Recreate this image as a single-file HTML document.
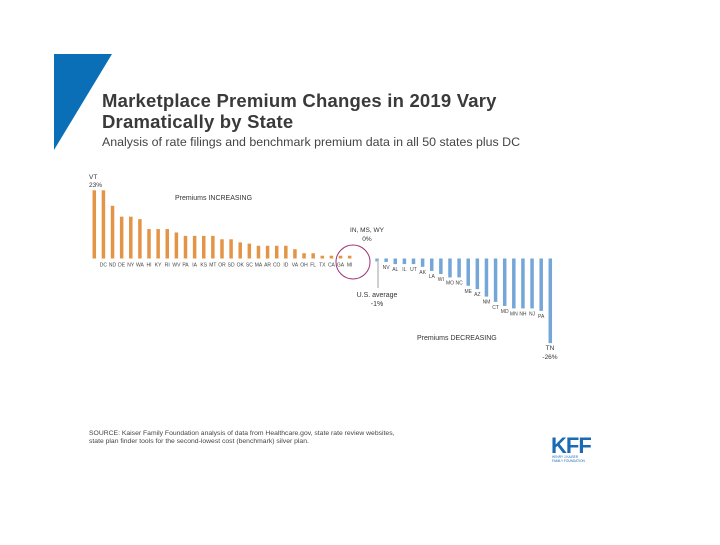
<!DOCTYPE html>
<html><head><meta charset="utf-8"><style>
body{margin:0;background:#fff;}
svg text{font-family:"Liberation Sans",sans-serif;}
</style></head><body>
<svg width="720" height="540" viewBox="0 0 720 540">
<polygon points="54,54 112,54 54,150" fill="#0a6fb7"/>
<text x="102" y="107" font-size="18.5" font-weight="bold" fill="#3a3a3a" letter-spacing="0.2">Marketplace Premium Changes in 2019 Vary</text>
<text x="102" y="128" font-size="18.5" font-weight="bold" fill="#3a3a3a" letter-spacing="0.2">Dramatically by State</text>
<text x="102" y="146" font-size="12.4" fill="#444">Analysis of rate filings and benchmark premium data in all 50 states plus DC</text>
<g id="chart"></g>
<text x="89" y="179" font-size="6.5" fill="#333">VT</text>
<text x="89" y="187" font-size="6.5" fill="#333">23%</text>
<text x="175" y="200" font-size="7" fill="#333">Premiums INCREASING</text>
<text x="367" y="232" font-size="6.5" fill="#333" text-anchor="middle">IN, MS, WY</text>
<text x="367" y="241" font-size="6.5" fill="#333" text-anchor="middle">0%</text>
<circle cx="353" cy="262" r="17" fill="none" stroke="#a0307a" stroke-width="1"/>
<line x1="378" y1="262" x2="378" y2="288" stroke="#888" stroke-width="0.8"/>
<text x="377" y="297" font-size="7" fill="#333" text-anchor="middle">U.S. average</text>
<text x="377" y="306" font-size="7" fill="#333" text-anchor="middle">-1%</text>
<text x="417" y="340" font-size="7" fill="#333">Premiums DECREASING</text>
<text x="550" y="350" font-size="6.5" fill="#333" text-anchor="middle">TN</text>
<text x="550" y="359" font-size="6.5" fill="#333" text-anchor="middle">-26%</text>
<text x="89" y="435" font-size="6.8" fill="#444">SOURCE: Kaiser Family Foundation analysis of data from Healthcare.gov, state rate review websites,</text>
<text x="89" y="443" font-size="6.8" fill="#444">state plan finder tools for the second-lowest cost (benchmark) silver plan.</text>
<g>
<text x="551" y="453" font-size="22" font-weight="bold" fill="#1a6bb4" letter-spacing="-1">KFF</text>
<text x="552" y="458" font-size="3.2" fill="#1a6bb4">HENRY J KAISER</text>
<text x="552" y="462" font-size="3.2" fill="#1a6bb4">FAMILY FOUNDATION</text>
</g>
</svg>
<script>
const posStates=["VT","DC","ND","DE","NY","WA","HI","KY","RI","WV","PA","IA","KS","MT","OR","SD","OK","SC","MA","AR","CO","ID","VA","OH","FL","TX","CA","GA","MI"];
const posValues=[22,22,17,13.5,13.5,12.7,9.5,9.5,9.5,8.4,7.3,7.3,7.3,7.3,6.2,6.2,5.2,4.8,4.1,4.1,4.1,4.1,3,1.7,1.7,0.9,0.9,0.9,0.9];
const usAverage=-1;
const negStates=["NV","AL","IL","UT","AK","LA","WI","MO","NC","ME","AZ","NM","CT","MD","MN","NH","NJ","PA2","TN"];
const negValues=[-1.1,-1.8,-1.8,-1.8,-2.7,-4,-5,-6.1,-6.1,-8.8,-9.9,-12.3,-14,-15.3,-16.1,-16.1,-16.1,-16.9,-27.3];
const baseY=258.5, pxPer=3.1, x0=94.3, step=9.12, bw=3.5;
const ns="http://www.w3.org/2000/svg";
const g=document.getElementById('chart');
function xs(i){return x0+i*step;}
function ys(v){return baseY-v*pxPer;}
function bar(i,v,color,name){
  const r=document.createElementNS(ns,'rect');
  const y=Math.min(ys(v),baseY), h=Math.abs(ys(v)-baseY);
  r.setAttribute('x',xs(i)-bw/2);r.setAttribute('y',y);
  r.setAttribute('width',bw);r.setAttribute('height',Math.max(h,1));
  r.setAttribute('fill',color);
  
  
  g.appendChild(r);
}
function label(i,y,t,name){
  const e=document.createElementNS(ns,'text');
  e.setAttribute('x',xs(i));e.setAttribute('y',y);
  e.setAttribute('font-size','5');e.setAttribute('fill','#444');
  e.setAttribute('text-anchor','middle');e.textContent=t.replace(/\d/,'');
  
  
  g.appendChild(e);
}
posValues.forEach((v,i)=>{
  bar(i,v,'#e39447','bar-'+posStates[i].toLowerCase());
  if(i>0)label(i,baseY+8,posStates[i],'label-'+posStates[i].toLowerCase());
});
bar(31,usAverage,'#8aaed0','bar-us-average');
negValues.forEach((v,k)=>{
  const i=32+k;
  bar(i,v,'#74a6d8','bar-'+negStates[k].toLowerCase());
  if(k<negValues.length-1)label(i,ys(v)+7,negStates[k],'label-'+negStates[k].toLowerCase());
});
</script>
</body></html>
